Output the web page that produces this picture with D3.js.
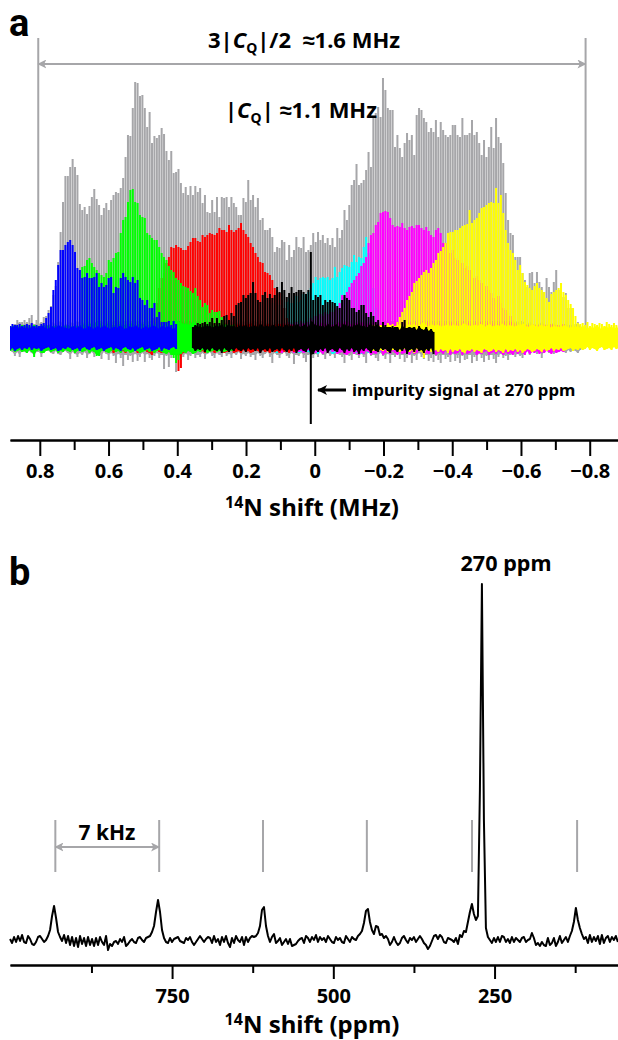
<!DOCTYPE html>
<html>
<head>
<meta charset="utf-8">
<script src="https://cdn.jsdelivr.net/npm/d3@7"></script>
<style>
  body { margin: 0; background: #fff; }
  text { font-family: "Noto Sans", sans-serif; font-weight: 700; fill: #000; }
</style>
</head>
<body>
<div id="chart"></div>
<script>
// spikelet comb of panel a, in MHz
var firstSpike = 0.8865;
var spikeStep = 0.007;

// heights of the spikelets, one per spikelet
var grayTop = [10,10,14,18,16,16,18,16,20,23,14,18,14,16,21,22,28,32,43,52,76,106,
  136,162,162,171,179,171,163,134,128,131,124,132,141,149,139,133,123,130,135,128,138,143,146,145,150,160,181,203,202,230,256,255,242,243,230,211,226,195,202,200,203,210,204,187,178,187,165,166,169,
  155,145,151,143,152,143,152,146,150,135,143,126,125,138,126,141,121,141,140,141,131,141,135,131,123,123,140,136,158,138,143,131,140,118,120,108,108,110,101,86,91,90,98,96,78,93,81,88,101,91,
  90,101,86,88,93,105,96,106,98,103,95,100,93,100,91,110,100,108,128,118,
  133,153,158,174,153,155,158,168,186,171,221,225,231,221,260,248,230,228,228,191,
  203,190,181,195,205,198,203,183,223,230,228,220,216,206,210,206,218,201,216,208,
  203,201,203,213,213,203,201,220,203,203,205,218,203,206,195,183,198,181,191,211,
  190,220,201,195,175,145,118,105,103,81,81,81,65,58,51,65,66,55,66,56,
  51,46,60,51,46,56,68,48,55,41,45,30,30,18,
  14,16,12,15,13,16,14,12,15,16,13,14,12,15,14,13,15,12];
var grayLow = [-12,-14,-18,-14,-19,-13,-14,-15,-13,-15,-17,-14,-14,-19,-14,-13,-13,-15,-16,-13,-16,-17,-14,-13,-15,
  -21,-14,-16,-19,-15,-17,-14,-20,-16,-14,-19,-15,-17,-21,-14,-16,-22,-15,-18,-25,-16,-20,-28,-17,-22,-18,-24,-16,-23,-19,
  -15,-24,-16,-20,-22,-18,-15,-20,-17,-31,-18,-29,-20,-16,-34,-18,-30,-19,-16,-22,-18,-15,-20,-17,-19,-15,-21,-16,-14,-18,
  -20,-15,-17,-19,-14,-18,-16,-20,-15,-17,-14,-21,-16,-18,-15,-19,-17,-22,-15,-18,-20,-16,-14,-19,-25,-15,-17,-20,-16,-14,
  -18,-20,-15,-26,-17,-18,-15,-20,-24,-17,-15,-20,-16,-19,-14,-17,-21,-15,-18,-16,-20,-14,-17,-19,-25,-16,-18,-22,-15,-17,
  -20,-16,-19,-25,-14,-18,-17,-20,-23,-15,-18,-21,-16,-25,-17,-19,-15,-21,-17,-24,-20,-16,-25,-18,-22,-15,-19,-21,-17,-23,
  -20,-24,-18,-22,-25,-17,-21,-19,-24,-16,-23,-20,-25,-18,-22,-21,-17,-25,-19,-23,-16,-20,-24,-18,-22,-17,-21,-25,-19,-16,
  -20,-18,-22,-17,-15,-19,-16,-18,-20,-15,-13,-17,-14,-12,-16,-13,-20,-14,-12,-15,-13,-16,-12,-14,-11,-13,-15,-12,-14,-11,-13,-15,-12];

var blueTop = [12,14,13,13,14,12,13,14,13,15,12,13,12,14,
  15,20,25,31,48,58,73,88,88,93,96,98,93,86,70,68,60,61,65,60,60,61,65,51,55,51,53,60,61,45,51,50,60,65,61,58,56,61,55,58,40,38,33,38,30,30,35,21,26,16,16,16,17,13,17,14];
var blueLow = [-12,-10,-13,-11,-10,-12,-10,-11,-9,-12,-10,-11,-10,-13,-11,-10,-9,-12,-11,-10,-13,-12,-10,-11,-9,-10,-12,-11,-10,-13,-10,-9,-11,-12,-10,-9,-12,-11,-10,-13,-11,-10,-9,-12,-10,-11,-13,-10,-9,-11,-12,-10,-13,-11,-10,-9,-12,-11,-10,-13,-12,-11,-9,-13,-10,-11,-12,-10,-9,-11];

var greenTop = [11,12,13,12,11,13,12,13,11,12,13,12,11,12,13,12,13,11,12,13,12,11,13,12,13,12,11,13,12,13,
  71,72,78,80,75,71,68,65,63,61,65,78,76,80,85,86,105,118,121,136,148,149,136,135,123,121,120,105,103,100,98,98,91,85,81,
  78,72,68,66,60,58,55,52,51,50,47,45,50,42,38,31,35,33,25,28,26,26,27,21,18,14,12,13,14];
var greenLow = [-13,-12,-14,-13,-12,-14,-13,-15,-12,-14,-19,-13,-12,-15,-15,-13,-12,-14,-13,-12,-15,-13,-14,-12,-13,-14,-12,-15,-13,-12,
  -14,-13,-12,-15,-13,-14,-18,-18,-13,-12,-14,-15,-13,-12,-14,-13,-15,-12,-14,-13,-15,-14,-12,-13,-15,-14,-13,-12,-14,-13,-15,-13,-12,-14,-15,-16,-14,-17,-20,-25,-22,-16,-14,-15,-13,-14,-16,-15,-13,-14,-12,-13,-15,-14,-13,-12,-14,-13,-12,-14,-13,-12,-13,-12];

var redStart = 38;
var redTop = [12,13,12,14,12,13,12,13,14,12,13,12,13,14,12,13,12,14,13,12,13,12,20,35,50,60,65,75,
  81,91,90,93,91,90,88,88,92,96,100,100,97,96,103,101,103,105,104,103,105,110,108,108,106,113,108,106,108,110,115,108,104,101,95,91,85,81,76,75,66,65,63,58,50,48,45,
  38,30,20,14,12,13,12];
var redLow = [-13,-12,-14,-13,-12,-15,-13,-12,-14,-13,-15,-12,-14,-13,-12,-15,-14,-13,-12,-14,-15,-17,-13,-12,-14,-15,-13,-15,
  -14,-12,-13,-15,-33,-30,-15,-14,-12,-13,-15,-14,-12,-14,-13,-15,-12,-14,-13,-15,-14,-12,-13,-15,-14,-13,-12,-15,-14,-13,-15,-12,-14,-13,-15,-14,-12,-13,-15,-12,-14,-13,-15,-12,-14,-13,-15,
  -12,-14,-13,-15,-12,-14,-13];

var cyanStart = 108;
var cyanTop = [30,35,28,36,33,38,30,36,40,35,38,42,36,38,44,40,46,50,
  55,61,58,60,61,60,61,58,60,71,61,66,70,73,72,71,76,83,76,81,80,91,101,85,70,50,30,12,12];
var cyanLow = [-13,-12,-14,-15,-13,-12,-14,-13,-15,-12,-14,-13,-15,-14,-12,-13,-14,-15,-12,-14,-16,-13,-15,-12,-14,-13,-16,-15,-12,-14,-13,-15,-16,-14,-12,-13,-15,-14,-16,-12,-13,-15,-14,-12,-16,-13,-14];

var magentaStart = 110;
var magentaTop = [12,13,14,12,15,13,16,14,15,16,14,17,15,18,16,20,18,22,20,24,22,26,24,28,26,28,
  30,35,43,41,46,51,55,58,62,65,72,75,81,95,103,105,113,116,125,126,127,126,120,113,111,112,111,115,110,108,111,112,110,113,113,110,108,111,107,103,101,108,110,105,95,95,
  90,85,88,80,78,82,75,70,72,68,65,60,62,58,55,50,52,48,45,40,38,42,35,30,28,25,22,18,15,13,12,14,12,13,12,14,13,12,13,12,14,12,13,14,12,13,12,13,14];
var magentaLow = [-13,-12,-14,-15,-13,-12,-14,-13,-15,-12,-14,-13,-15,-14,-12,-13,-14,-15,-12,-14,-16,-13,-15,-12,-14,-13,
  -16,-15,-14,-16,-17,-15,-13,-16,-14,-17,-15,-16,-13,-14,-17,-15,-16,-14,-13,-17,-15,-14,-16,-13,-15,-17,-14,-16,-15,-13,-17,-14,-16,-15,-13,-14,-17,-15,-16,-14,-13,-17,-15,-14,-16,-13,
  -15,-17,-14,-16,-15,-13,-17,-14,-16,-15,-13,-14,-17,-15,-16,-14,-13,-17,-15,-14,-16,-13,-15,-17,-14,-16,-15,-17,-13,-16,-14,-15,-17,-13,-16,-14,-15,-13,-16,-14,-15,-13,-14,-16,-13,-15,-14,-13,-14];

var yellowStart = 150;
var yellowTop = [12,13,14,12,13,14,12,15,13,14,12,16,
  21,26,30,38,42,46,55,57,60,63,66,68,65,70,75,78,85,87,91,95,105,106,106,108,108,110,112,113,114,128,115,118,120,125,130,131,133,135,136,135,150,
  135,143,125,108,95,88,85,78,68,73,65,56,53,50,48,52,55,50,48,46,40,36,44,46,48,50,55,46,43,38,34,30,22,15,
  14,15,13,16,12,15,14,13,15,14,12,16,14,13,15,13,12];
var yellowLow = [-12,-13,-11,-14,-12,-13,-11,-14,-13,-12,-11,-13,
  -14,-12,-11,-13,-14,-12,-15,-11,-13,-14,-20,-12,-11,-14,-13,-12,-14,-11,-13,-12,-15,-11,-14,-12,-13,-11,-14,-15,-12,-13,-11,-14,-12,-13,-15,-11,-12,-14,-13,-11,-14,
  -12,-13,-15,-11,-14,-12,-13,-11,-14,-12,-15,-13,-11,-12,-14,-13,-11,-12,-14,-11,-13,-12,-10,-13,-11,-12,-10,-13,-12,-11,-10,-13,-11,-12,
  -10,-12,-11,-9,-12,-10,-11,-13,-10,-9,-12,-11,-10,-12,-9,-11,-10];

var blackStart = 76;
var blackTop = [11,13,15,14,15,16,14,16,20,15,
  20,15,18,22,23,18,25,22,33,35,
  36,43,40,43,45,56,45,38,36,43,
  46,40,44,40,43,51,46,56,48,41,45,51,45,46,48,
  48,46,44,48,86,38,43,41,43,33,38,36,38,36,35,
  32,30,38,43,40,38,30,30,26,28,33,
  33,25,21,26,22,16,18,11,16,13,11,
  11,12,11,11,8,16,18,10,11,10,11,8,12,9,8,11,7,9,6];
var blackLow = [-10,-13,-11,-12,-10,-14,-11,-13,-10,-12,-13,-11,-15,-10,-12,-14,-11,-13,-10,-12,
  -13,-11,-14,-10,-12,-11,-13,-10,-15,-12,-11,-13,-10,-14,-12,-11,-13,-10,-12,-14,-11,-13,-10,-15,-12,
  -11,-13,-14,-10,-86,-16,-12,-14,-11,-13,-10,-15,-12,-11,-13,-14,-10,-12,-15,-11,-13,-10,-14,-12,-16,-11,
  -13,-10,-12,-15,-11,-13,-14,-10,-12,-11,-13,-15,-10,-12,-14,-11,-13,-10,-16,-12,-11,-14,-10,-13,-12,-15,-11,-13,-10,-16];

// axis ticks
var mhzTicks = [0.8, 0.6, 0.4, 0.2, 0, -0.2, -0.4, -0.6, -0.8];
var mhzMinor = [0.7, 0.5, 0.3, 0.1, -0.1, -0.3, -0.5, -0.7];
var ppmTicks = [750, 500, 250];
var ppmMinor = [875, 625, 375, 125];

// panel b: the 14N trace, one value every 3.1 ppm from 1001.2 ppm
var ppmFirst = 1001.2;
var ppmStep = 3.1;
var ppmTrace = [1,-3,3,-2,4,-1,5,-2,-3,4,1,-4,-5,-2,3,4,1,-2,0,4,10,24,34,22,8,
  3,-1,5,-3,4,-5,3,-6,2,-7,4,-4,2,-6,3,-5,1,-6,2,-5,3,-2,-5,4,-10,
  -4,-6,-2,-1,-4,1,-2,3,-6,-4,-1,1,-2,-3,2,3,0,-2,2,3,4,8,14,28,40,
  28,10,2,-2,-3,2,-2,1,2,3,-1,-2,-3,2,0,3,-2,-5,-2,1,4,1,-2,1,3,
  2,-3,4,-2,1,-5,3,-2,4,-3,-7,2,-3,4,0,-2,3,-5,3,-2,2,4,3,4,7,
  14,30,33,14,4,-2,3,6,-3,-1,2,-5,-2,1,-4,1,-6,-5,-4,-1,1,2,-3,4,2,
  -2,3,0,5,-2,3,0,2,-2,4,1,-2,-3,3,0,2,-2,-3,4,1,-2,3,1,0,4,
  6,9,17,29,31,18,10,6,14,13,5,6,2,4,1,-5,-2,3,-2,-5,-3,2,4,0,-3,
  2,0,3,-2,1,4,1,-3,-5,-9,-6,-1,4,5,1,5,3,-2,-3,2,1,0,-2,2,-4,
  5,3,9,8,18,28,36,26,20,24,150,356,120,12,3,0,-3,2,-2,3,-2,4,3,-2,1,
  -3,3,-2,2,0,-2,2,3,-2,0,1,7,2,-5,-3,-6,-2,-5,-6,2,-5,-3,2,-6,-2,
  4,-3,0,3,-2,4,9,18,32,20,12,6,1,3,-3,5,-2,3,-1,4,-4,5,-3,2,4,
  -2,3,0,4,-2];

// spinning sideband positions marked in panel b
var sidebandPpm = [931, 770, 609, 448, 285, 122];

var spectra = [
  {color: "#a6a6a9", start: 0, top: grayTop, low: grayLow},
  {color: "#00ffff", start: cyanStart, top: cyanTop, low: cyanLow},
  {color: "#ff00ff", start: magentaStart, top: magentaTop, low: magentaLow},
  {color: "#ffff00", start: yellowStart, top: yellowTop, low: yellowLow},
  {color: "#ff0000", start: redStart, top: redTop, low: redLow},
  {color: "#00ff00", start: 0, top: greenTop, low: greenLow},
  {color: "#0000ff", start: 0, top: blueTop, low: blueLow},
  {color: "#000000", start: blackStart, top: blackTop, low: blackLow}
];

var grey = "#a6a6a9";

var svg = d3.select("#chart").append("svg")
    .attr("width", 618)
    .attr("height", 1040)
    .style("display", "block");

var defs = svg.append("defs");
defs.append("clipPath").attr("id", "plot")
    .append("rect").attr("x", 10).attr("y", 0).attr("width", 608).attr("height", 440);

function marker(id, color, w, h) {
  defs.append("marker").attr("id", id)
      .attr("viewBox", "0 0 10 10").attr("refX", 9).attr("refY", 5)
      .attr("markerWidth", w).attr("markerHeight", h)
      .attr("markerUnits", "userSpaceOnUse")
      .attr("orient", "auto-start-reverse")
      .append("path").attr("d", "M0,0L10,5L0,10L2.5,5Z").attr("fill", color);
}
marker("greyHead", grey, 9, 9);
marker("blackHead", "#000", 13, 10);

// set the scales
var xMhz = d3.scaleLinear().domain([0.8867, -0.8823]).range([10, 618]);
var yA = d3.scaleLinear().domain([-100, 280]).range([438, 58]);
var xPpm = d3.scaleLinear().domain([1001.3, 58.6]).range([10, 618]);
var yB = d3.scaleLinear().domain([-20, 356]).range([960, 584]);

// limits of 3|CQ|/2 in panel a, behind the spectra
var limits = [0.8045, -0.788];
svg.selectAll(".limit").data(limits).enter().append("line")
    .attr("class", "limit")
    .attr("x1", function(d) { return xMhz(d); })
    .attr("x2", function(d) { return xMhz(d); })
    .attr("y1", 38).attr("y2", 330)
    .attr("stroke", grey).attr("stroke-width", 2);

// panel a spectra
var plot = svg.append("g").attr("clip-path", "url(#plot)");

spectra.forEach(function(s) {
  var spikes = d3.zip(s.top, s.low).map(function(d, i) {
    return {f: firstSpike - (s.start + i) * spikeStep, top: d[0], low: d[1]};
  });
  var g = plot.append("g").attr("fill", s.color);
  // the solid noise band under the spikelets
  g.append("path")
      .attr("d", d3.area()
        .x(function(d) { return xMhz(d.f); })
        .y0(function(d) { return yA(Math.max(d.low, -17)); })
        .y1(function(d) { return yA(Math.min(d.top, Math.min(-d.low, 17))); })(spikes));
  g.selectAll("rect").data(spikes).enter().append("rect")
      .attr("x", function(d) { return xMhz(d.f) - 1; })
      .attr("width", 2)
      .attr("y", function(d) { return yA(d.top); })
      .attr("height", function(d) { return yA(d.low) - yA(d.top); });
});

function drawAxis(scale, major, minor, y, majorSize, minorSize, pad, fmt) {
  svg.append("g").attr("transform", "translate(0," + y + ")")
      .call(d3.axisBottom(scale).tickValues(minor).tickSizeInner(minorSize).tickSizeOuter(0).tickFormat(""))
      .call(function(g) { g.selectAll("path,line").attr("stroke-width", 2); });
  var ax = svg.append("g").attr("transform", "translate(0," + y + ")")
      .call(d3.axisBottom(scale).tickValues(major).tickSizeInner(majorSize).tickSizeOuter(0).tickPadding(pad).tickFormat(fmt))
      .call(function(g) { g.selectAll("path,line").attr("stroke-width", 2); });
  ax.selectAll("text").style("font-size", "20px").style("font-family", '"Noto Sans", sans-serif').style("font-weight", 700);
}

drawAxis(xMhz, mhzTicks, mhzMinor, 440, 16, 10, 8, function(d) {
  return d === 0 ? "0" : (d < 0 ? "\u2212" : "") + Math.abs(d).toFixed(1);
});
drawAxis(xPpm, ppmTicks, ppmMinor, 965, 14, 8, 10, function(d) { return d; });

function axisTitle(unit, y, size) {
  var t = svg.append("text").attr("x", 312).attr("y", y).attr("text-anchor", "middle").style("font-size", size + "px");
  t.append("tspan").attr("dy", -8).style("font-size", "16px").text("14");
  t.append("tspan").attr("dy", 8).text("N shift (" + unit + ")");
}
axisTitle("MHz", 516, 24);
axisTitle("ppm", 1033, 24);

// panel letters
svg.append("text").attr("x", 9).attr("y", 36).style("font-size", "38px").style("font-family", "Roboto").text("a");
svg.append("text").attr("x", 9).attr("y", 585).style("font-size", "38px").style("font-family", "Roboto").text("b");

// annotations of panel a
svg.append("line")
    .attr("x1", xMhz(limits[0])).attr("x2", xMhz(limits[1]))
    .attr("y1", 64).attr("y2", 64)
    .attr("stroke", grey).attr("stroke-width", 2)
    .attr("marker-start", "url(#greyHead)")
    .attr("marker-end", "url(#greyHead)");

function cqLabel(x, y, size, before, after) {
  var t = svg.append("text").attr("x", x).attr("y", y).attr("text-anchor", "middle").style("font-size", size + "px").attr("xml:space", "preserve");
  t.append("tspan").text(before + "|");
  t.append("tspan").style("font-style", "italic").text("C");
  t.append("tspan").attr("dy", 5).style("font-size", "14px").text("Q");
  t.append("tspan").attr("dy", -5).text("|" + after);
}
cqLabel(304, 48, 22, "3", "/2 \u00a0\u22481.6 MHz");
cqLabel(301, 118, 22, "", " \u22481.1 MHz");

svg.append("line")
    .attr("x1", 346).attr("x2", 318).attr("y1", 390).attr("y2", 390)
    .attr("stroke", "#000").attr("stroke-width", 3)
    .attr("marker-end", "url(#blackHead)");
svg.append("text").attr("x", 352).attr("y", 396).style("font-size", "16.8px").text("impurity signal at 270 ppm");

// panel b trace
svg.append("path")
    .datum(ppmTrace)
    .attr("fill", "none")
    .attr("stroke", "#000")
    .attr("stroke-width", 2)
    .attr("stroke-linejoin", "round")
    .attr("d", d3.line()
      .x(function(d, i) { return xPpm(ppmFirst - i * ppmStep); })
      .y(function(d) { return yB(d); }));

svg.selectAll(".sideband").data(sidebandPpm).enter().append("line")
    .attr("class", "sideband")
    .attr("x1", function(d) { return xPpm(d); })
    .attr("x2", function(d) { return xPpm(d); })
    .attr("y1", 820).attr("y2", 872)
    .attr("stroke", grey).attr("stroke-width", 2);

svg.append("line")
    .attr("x1", xPpm(sidebandPpm[0])).attr("x2", xPpm(sidebandPpm[1]))
    .attr("y1", 847).attr("y2", 847)
    .attr("stroke", grey).attr("stroke-width", 2)
    .attr("marker-start", "url(#greyHead)")
    .attr("marker-end", "url(#greyHead)");
svg.append("text").attr("x", 107).attr("y", 840).attr("text-anchor", "middle").style("font-size", "21px").text("7 kHz");
svg.append("text").attr("x", 506).attr("y", 571).attr("text-anchor", "middle").style("font-size", "21.6px").text("270 ppm");
</script>
</body>
</html>
